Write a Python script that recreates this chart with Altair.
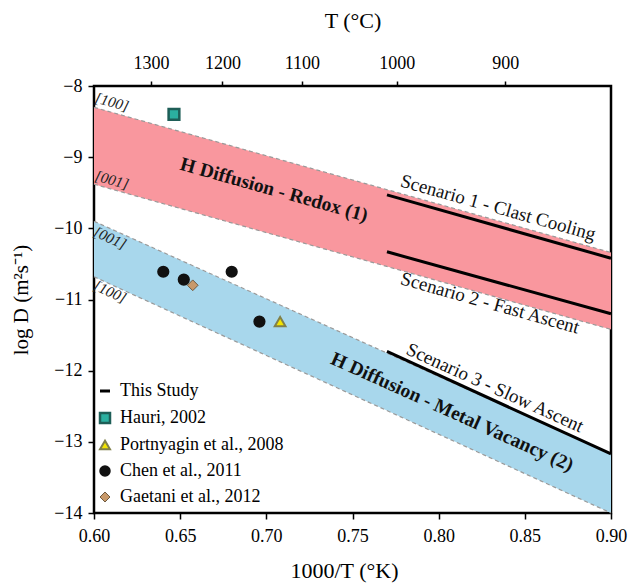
import altair as alt
import pandas as pd

FONT = "Liberation Serif"

# Bands (edges at x = 0.60 and 0.90)
band_x = [0.60, 0.90]
redox_upper = [-8.30, -10.34]
redox_lower = [-9.38, -11.42]
vac_upper = [-9.90, -13.17]
vac_lower = [-10.68, -14.00]

# This study scenario lines
scen_x0 = [0.77, 0.77, 0.77]
scen_x1 = [0.90, 0.90, 0.90]
scen_y0 = [-9.53, -10.33, -11.73]
scen_y1 = [-10.42, -11.20, -13.17]

# Literature data
pt_source = ["Hauri, 2002", "Chen et al., 2011", "Chen et al., 2011", "Chen et al., 2011",
             "Chen et al., 2011", "Gaetani et al., 2012", "Portnyagin et al., 2008"]
pt_x = [0.6464, 0.6402, 0.6521, 0.6799, 0.6960, 0.6573, 0.7080]
pt_y = [-8.40, -10.61, -10.72, -10.61, -11.31, -10.80, -11.31]

legend_order = ["This Study", "Hauri, 2002", "Portnyagin et al., 2008",
                "Chen et al., 2011", "Gaetani et al., 2012"]
legend_shapes = ["stroke", "square", "triangle-up", "circle", "diamond"]
legend_fills = ["#000000", "#2BB0A0", "#F2E400", "#111111", "#C8996A"]
legend_strokes = ["#000000", "#1E5E57", "#80804A", "#111111", "#6E5A40"]
legend_widths = [3, 1, 1, 1, 1]

# Top axis (T in °C)
top_pos = [0.6331, 0.6745, 0.7206, 0.7757, 0.8387]
top_lab = ["1300", "1200", "1100", "1000", "900"]

# Annotations
bold_txt = ["H Diffusion - Redox (1)", "H Diffusion - Metal Vacancy (2)"]
bold_x = [0.7045, 0.8078]
bold_y = [-9.46, -12.58]
bold_ang = [15.6, 24.3]

scen_txt = ["Scenario 1 - Clast Cooling", "Scenario 2 - Fast Ascent", "Scenario 3 - Slow Ascent"]
scen_tx = [0.8345, 0.8298, 0.8327]
scen_ty = [-9.71, -11.05, -12.24]
scen_ang = [15.6, 15.6, 24.3]

br_txt = ["[100]", "[001]", "[001]", "[100]"]
br_x = [0.6104, 0.6104, 0.6093, 0.6093]
br_y = [-8.225, -9.32, -10.135, -10.89]
br_ang = [15.6, 15.6, 24.3, 24.3]

xs = alt.Scale(domain=[0.60, 0.90], nice=False, zero=False)
ys = alt.Scale(domain=[-14, -8], nice=False, zero=False)

bands = pd.DataFrame({
    "x": band_x * 2,
    "up": redox_upper + vac_upper,
    "lo": redox_lower + vac_lower,
    "band": ["redox"] * 2 + ["vac"] * 2,
})
edges = pd.DataFrame({
    "x": band_x * 4,
    "y": redox_upper + redox_lower + vac_upper + vac_lower,
    "edge": ["a", "a", "b", "b", "c", "c", "d", "d"],
})
scen = pd.DataFrame({"x0": scen_x0, "x1": scen_x1, "y0": scen_y0, "y1": scen_y1})
pts = pd.DataFrame({"source": pt_source, "x": pt_x, "y": pt_y})
topdf = pd.DataFrame({"x": top_pos, "lab": top_lab})
bold_df = pd.DataFrame({"t": bold_txt, "x": bold_x, "y": bold_y, "a": bold_ang})
scen_df = pd.DataFrame({"t": scen_txt, "x": scen_tx, "y": scen_ty, "a": scen_ang})
br_df = pd.DataFrame({"t": br_txt, "x": br_x, "y": br_y, "a": br_ang})

common_axis = dict(grid=False, tickWidth=1.5, tickColor="black", domain=False,
                   labelFont=FONT, titleFont=FONT, labelColor="black", titleColor="black",
                   titleFontWeight="normal", labelFlush=False)

xaxis = alt.Axis(title="1000/T (°K)", orient="bottom", values=[0.60, 0.65, 0.70, 0.75, 0.80, 0.85, 0.90],
                 format=".2f", tickSize=6, labelFontSize=18, titleFontSize=22,
                 labelPadding=8, titlePadding=15, titleX=250, **common_axis)
yaxis = alt.Axis(title="log D (m²s⁻¹)", values=[-14, -13, -12, -11, -10, -9, -8],
                 tickSize=6, labelFontSize=18, titleFontSize=21,
                 labelPadding=6, titlePadding=22, **common_axis)
topaxis = alt.Axis(orient="top", title="T (°C)", values=top_pos,
                   labelExpr="datum.value < 0.65 ? '1300' : datum.value < 0.70 ? '1200' : datum.value < 0.75 ? '1100' : datum.value < 0.80 ? '1000' : '900'",
                   tickSize=5, labelFontSize=18, titleFontSize=22, labelPadding=9, titlePadding=22,
                   **common_axis)


def X(f):
    return alt.X(f, scale=xs, axis=None)


def Y(f):
    return alt.Y(f, scale=ys, axis=yaxis)


red_area = alt.Chart(bands).transform_filter(alt.datum.band == "redox").mark_area(
    color="#F9979E", opacity=1).encode(
    x=alt.X("x:Q", scale=xs, axis=xaxis), y=Y("up:Q"), y2="lo:Q")
blue_area = alt.Chart(bands).transform_filter(alt.datum.band == "vac").mark_area(
    color="#A8D7EC", opacity=1).encode(x=X("x:Q"), y=Y("up:Q"), y2="lo:Q")

edge_lines = alt.Chart(edges).mark_line(color="#9A9A9A", strokeWidth=1.2, strokeDash=[4, 3]).encode(
    x=X("x:Q"), y=Y("y:Q"), detail="edge:N")

scen_rules = alt.Chart(scen).mark_rule(color="black", strokeWidth=3).encode(
    x=X("x0:Q"), x2="x1:Q", y=Y("y0:Q"), y2="y1:Q")

leg = alt.Legend(title=None, orient="none", legendX=2, legendY=296,
                 labelFont=FONT, labelFontSize=18, labelColor="black", labelLimit=400,
                 symbolSize=100, rowPadding=8, labelOffset=6)
points = alt.Chart(pts).mark_point(filled=True, size=115, opacity=1).encode(
    x=X("x:Q"), y=Y("y:Q"),
    shape=alt.Shape("source:N", scale=alt.Scale(domain=legend_order, range=legend_shapes), legend=leg),
    fill=alt.Fill("source:N", scale=alt.Scale(domain=legend_order, range=legend_fills), legend=leg),
    stroke=alt.Stroke("source:N", scale=alt.Scale(domain=legend_order, range=legend_strokes), legend=leg),
    strokeWidth=alt.StrokeWidth("source:N", scale=alt.Scale(domain=legend_order, range=legend_widths), legend=leg),
)

bold_text = alt.Chart(bold_df).mark_text(font=FONT, fontSize=19.5, fontWeight="bold", color="#111").encode(
    x=X("x:Q"), y=Y("y:Q"), text="t:N", angle=alt.Angle("a:Q", scale=None))
scen_text = alt.Chart(scen_df).mark_text(font=FONT, fontSize=19, color="#111").encode(
    x=X("x:Q"), y=Y("y:Q"), text="t:N", angle=alt.Angle("a:Q", scale=None))
br_text = alt.Chart(br_df).mark_text(font=FONT, fontSize=15, fontStyle="italic", color="#222").encode(
    x=X("x:Q"), y=Y("y:Q"), text="t:N", angle=alt.Angle("a:Q", scale=None))

top_axis = alt.Chart(topdf).mark_point(opacity=0).encode(
    x=alt.X("x:Q", scale=xs, axis=topaxis),
    y=alt.value(0),
)

chart = alt.layer(
    red_area, blue_area, edge_lines, scen_rules, points, bold_text, scen_text, br_text, top_axis
).resolve_axis(x="independent").properties(
    width=517, height=427,
    padding={"left": 94, "top": 86, "right": 21, "bottom": 74},
    autosize=alt.AutoSizeParams(type="none"),
    background="white",
).configure_view(stroke="black", strokeWidth=2.5).configure_legend(
    labelFont=FONT, labelFontSize=18, labelLimit=400, labelColor="black"
)

chart.save("out.html", embed_options={"renderer": "svg", "actions": False})
